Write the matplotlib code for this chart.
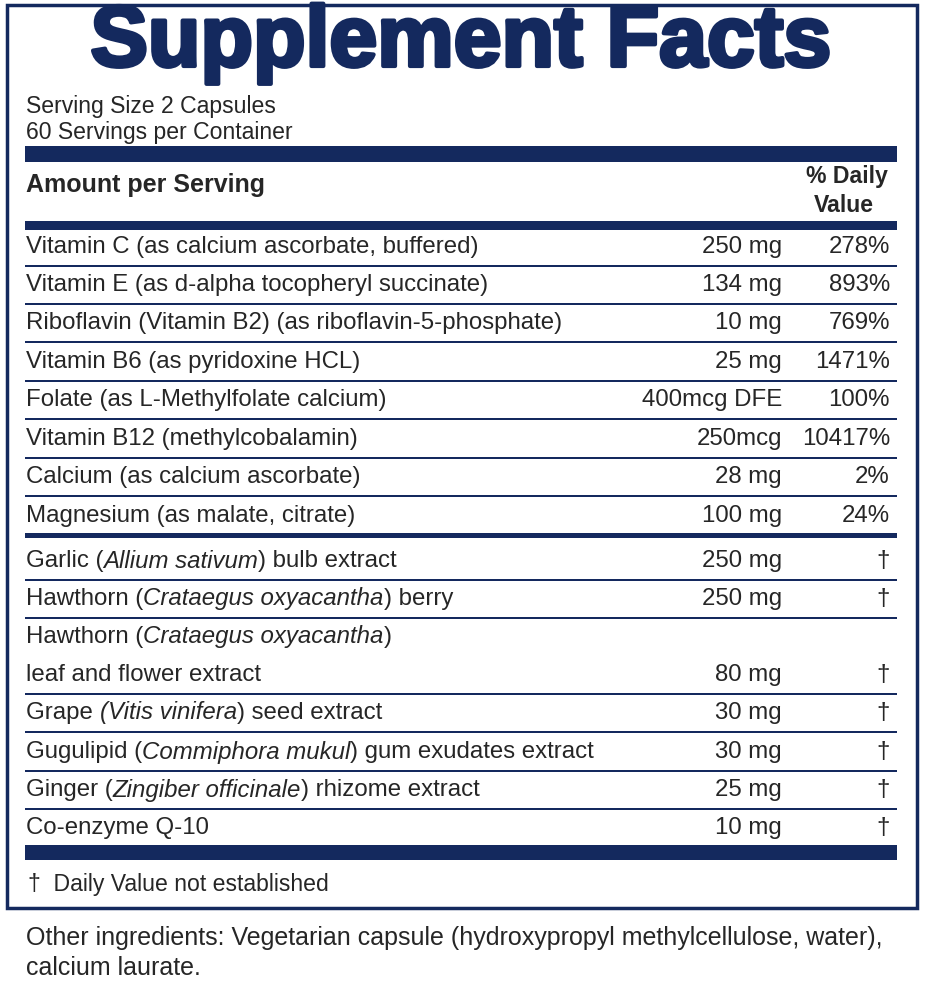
import matplotlib
matplotlib.use("Agg")
import matplotlib.pyplot as plt
import matplotlib.patheffects as pe

NAVY = "#14295e"
INK = "#262626"
FONT = ["Liberation Sans Narrow", "Liberation Sans", "DejaVu Sans"]

# 成分行: 名称片段 (text, italic), 含量, %DV
rows = [
    ([("Vitamin C (as calcium ascorbate, buffered)", False)], "250 mg", "278%"),
    ([("Vitamin E (as d-alpha tocopheryl succinate)", False)], "134 mg", "893%"),
    ([("Riboflavin (Vitamin B2) (as riboflavin-5-phosphate)", False)], "10 mg", "769%"),
    ([("Vitamin B6 (as pyridoxine HCL)", False)], "25 mg", "1471%"),
    ([("Folate (as L-Methylfolate calcium)", False)], "400mcg DFE", "100%"),
    ([("Vitamin B12 (methylcobalamin)", False)], "250mcg", "10417%"),
    ([("Calcium (as calcium ascorbate)", False)], "28 mg", "2%"),
    ([("Magnesium (as malate, citrate)", False)], "100 mg", "24%"),
    ([("Garlic (", False), ("Allium sativum", True), (") bulb extract", False)], "250 mg", "†"),
    ([("Hawthorn (", False), ("Crataegus oxyacantha", True), (") berry", False)], "250 mg", "†"),
    ([("Hawthorn (", False), ("Crataegus oxyacantha", True), (")", False)], "", ""),
    ([("leaf and flower extract", False)], "80 mg", "†"),
    ([("Grape ", False), ("(Vitis vinifera", True), (") seed extract", False)], "30 mg", "†"),
    ([("Gugulipid (", False), ("Commiphora mukul", True), (") gum exudates extract", False)], "30 mg", "†"),
    ([("Ginger (", False), ("Zingiber officinale", True), (") rhizome extract", False)], "25 mg", "†"),
    ([("Co-enzyme Q-10", False)], "10 mg", "†"),
]
row_y = [247, 285, 323, 362, 400, 439, 477, 516, 561, 599, 637, 675, 713, 752, 790, 828]
# 行后分隔线粗细 (0 = 无)
sep_w = [2, 2, 2, 2, 2, 2, 2, 5, 2, 2, 0, 2, 2, 2, 2, 0]

fig = plt.figure(figsize=(9.38, 10), dpi=100)
ax = fig.add_axes([0, 0, 1, 1])
ax.set_xlim(0, 938)
ax.set_ylim(1000, 0)
ax.axis("off")
r = fig.canvas.get_renderer()

PX = 0.72  # px -> pt at dpi 100

def segs(x, y, parts, size, **kw):
    for txt, it in parts:
        t = ax.text(x, y, txt, fontsize=size, family=FONT, color=INK,
                    style="italic" if it else "normal", va="center", ha="left", **kw)
        bb = t.get_window_extent(renderer=r)
        x += bb.width

def hbar(y0, y1):
    ax.fill_between([25, 897], y0, y1, color=NAVY, lw=0)

# 外框
ax.add_patch(plt.Rectangle((7, 5), 910, 903, fill=False, ec=NAVY, lw=2.5))

ax.text(461, 44, "Supplement Facts", fontsize=86 * PX, fontweight="bold",
        family=["Liberation Sans", "DejaVu Sans"], color=NAVY, ha="center", va="center",
        path_effects=[pe.withStroke(linewidth=3, foreground=NAVY)])
ax.text(26, 106, "Serving Size 2 Capsules", fontsize=23 * PX, family=FONT, color=INK, va="center")
ax.text(26, 132, "60 Servings per Container", fontsize=23 * PX, family=FONT, color=INK, va="center")
hbar(146, 162)
ax.text(26, 185, "Amount per Serving", fontsize=25 * PX, fontweight="bold", family=FONT, color=INK, va="center")
ax.text(888, 177, "% Daily", fontsize=23 * PX, fontweight="bold", family=FONT, color=INK, va="center", ha="right")
ax.text(874, 206, "Value", fontsize=23 * PX, fontweight="bold", family=FONT, color=INK, va="center", ha="right")
hbar(221, 230)

for (parts, amt, dv), y, w in zip(rows, row_y, sep_w):
    segs(26, y, parts, 24 * PX)
    ax.text(782, y, amt, fontsize=24 * PX, family=FONT, color=INK, va="center", ha="right")
    ax.text(890, y, dv, fontsize=24 * PX, family=FONT, color=INK, va="center", ha="right")
    if w:
        yy = y + 19
        ax.fill_between([25, 897], yy - w / 2, yy + w / 2, color=NAVY, lw=0)

hbar(845, 860)
ax.text(28, 884, "†  Daily Value not established", fontsize=23 * PX, family=FONT, color=INK, va="center")

ax.text(26, 938, "Other ingredients: Vegetarian capsule (hydroxypropyl methylcellulose, water),",
        fontsize=25 * PX, family=FONT, color=INK, va="center")
ax.text(26, 968, "calcium laurate.", fontsize=25 * PX, family=FONT, color=INK, va="center")

fig.savefig("out.png", dpi=100)
